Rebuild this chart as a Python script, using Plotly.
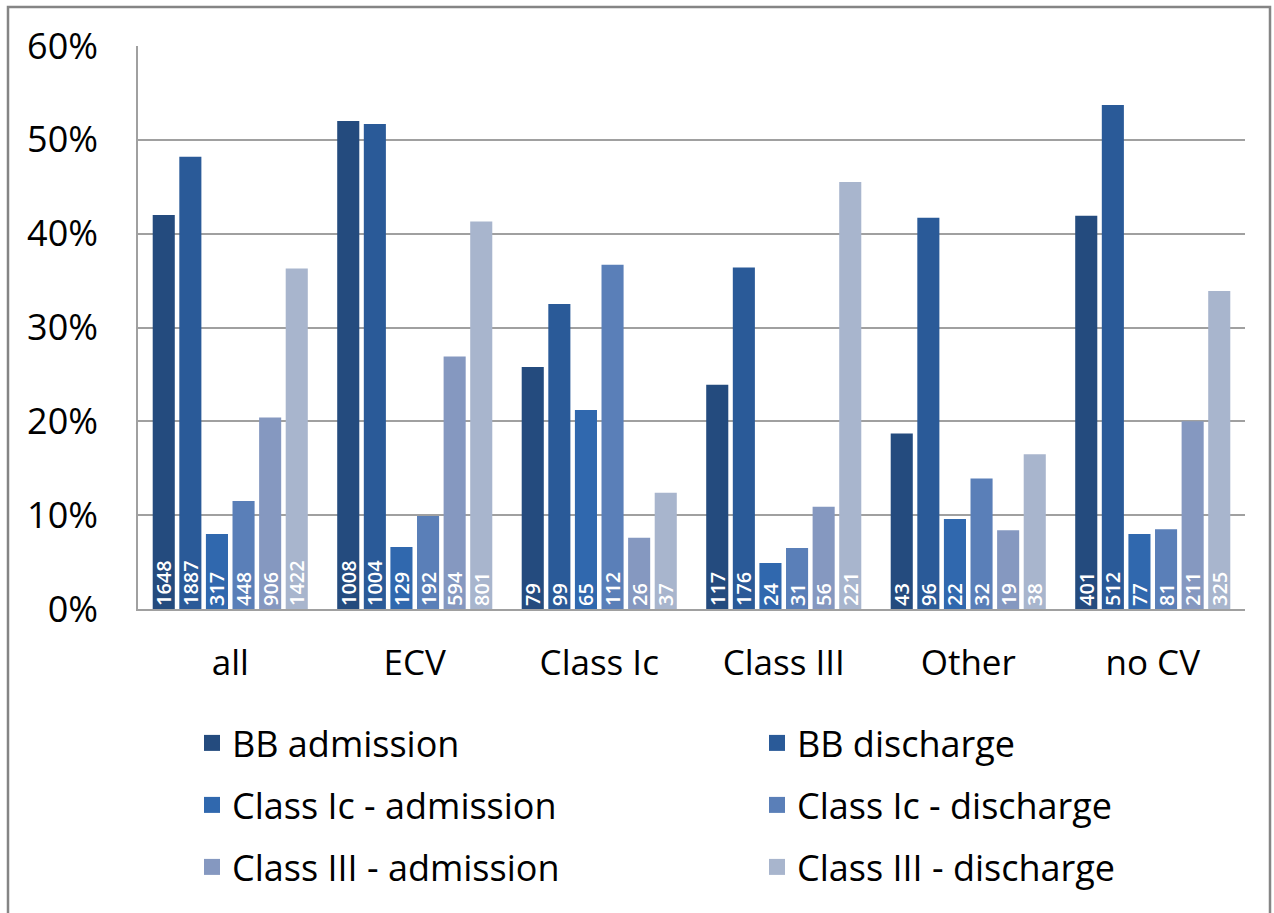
import plotly.graph_objects as go

categories = ["all", "ECV", "Class Ic", "Class III", "Other", "no CV"]
series_names = ["BB admission", "BB discharge", "Class Ic - admission",
                "Class Ic - discharge", "Class III - admission", "Class III - discharge"]

bb_adm = [42.0, 52.0, 25.8, 23.9, 18.7, 41.9]
bb_dis = [48.2, 51.7, 32.5, 36.4, 41.7, 53.7]
ic_adm = [8.0, 6.6, 21.2, 4.9, 9.6, 8.0]
ic_dis = [11.5, 9.9, 36.7, 6.5, 13.9, 8.5]
iii_adm = [20.4, 26.9, 7.6, 10.9, 8.4, 20.0]
iii_dis = [36.3, 41.3, 12.4, 45.5, 16.5, 33.9]

n_bb_adm = [1648, 1008, 79, 117, 43, 401]
n_bb_dis = [1887, 1004, 99, 176, 96, 512]
n_ic_adm = [317, 129, 65, 24, 22, 77]
n_ic_dis = [448, 192, 112, 31, 32, 81]
n_iii_adm = [906, 594, 26, 56, 19, 211]
n_iii_dis = [1422, 801, 37, 221, 38, 325]

y_ticks = [0, 10, 20, 30, 40, 50, 60]
y_tick_labels = ["0%", "10%", "20%", "30%", "40%", "50%", "60%"]

values = [bb_adm, bb_dis, ic_adm, ic_dis, iii_adm, iii_dis]
counts = [n_bb_adm, n_bb_dis, n_ic_adm, n_ic_dis, n_iii_adm, n_iii_dis]
colors = ["#244B7E", "#2A5A98", "#3068AE", "#5A7FB8", "#8598C0", "#A8B5CD"]
legend_ids = ["legend", "legend2", "legend3", "legend4", "legend5", "legend6"]

FONT = "Open Sans, Lato, sans-serif"

fig = go.Figure()
for name, vals, cnt, col in zip(series_names, values, counts, colors):
    fig.add_trace(go.Bar(
        x=categories, y=vals, name=name, showlegend=False,
        marker=dict(color=col, line=dict(width=0)),
        text=[str(c) for c in cnt], textposition="inside",
        insidetextanchor="start", textangle=-90,
        textfont=dict(color="white", size=20, family=FONT, weight=600),
        cliponaxis=False,
    ))

for name, col, lg in zip(series_names, colors, legend_ids):
    fig.add_trace(go.Scatter(
        x=[None], y=[None], mode="markers", name=name, legend=lg,
        marker=dict(symbol="square", size=16, color=col),
        showlegend=True,
    ))

L, R, T, B = 138, 29, 46, 304
W, H = 1274, 913
pw, ph = W - L - R, H - T - B

def py(ypix):
    return (H - B - ypix) / ph

def px(xpix):
    return (xpix - L) / pw

legend_common = dict(
    orientation="h", xanchor="left", yanchor="middle",
    font=dict(family=FONT, size=36, color="black"),
    bgcolor="rgba(0,0,0,0)", itemclick=False, itemdoubleclick=False,
)

col_x = [192, 757]
row_y = [743, 805, 867]
legend_layout = {}
for i, lg in enumerate(legend_ids):
    legend_layout[lg] = dict(x=px(col_x[i % 2]), y=py(row_y[i // 2]), **legend_common)

fig.update_layout(
    width=W, height=H,
    margin=dict(l=L, r=R, t=T, b=B),
    paper_bgcolor="white", plot_bgcolor="white",
    barmode="group", bargap=0.135, bargroupgap=0.17,
    font=dict(family=FONT, color="black"),
    uniformtext=dict(minsize=20, mode="show"),
    xaxis=dict(
        type="category", showgrid=False, showline=True,
        linecolor="#a0a0a0", linewidth=1.5, ticks="",
        tickfont=dict(family=FONT, size=35, color="black"),
        ticklabelstandoff=22,
    ),
    yaxis=dict(
        range=[0, 60], tickvals=y_ticks, ticktext=y_tick_labels,
        showgrid=True, gridcolor="#a0a0a0", gridwidth=1.5,
        showline=True, linecolor="#a0a0a0", linewidth=1.5,
        ticks="", zeroline=False,
        tickfont=dict(family=FONT, size=36, color="black"),
        ticklabelstandoff=31,
    ),
    shapes=[dict(
        type="rect", xref="paper", yref="paper",
        x0=px(8), x1=px(1270), y0=py(7), y1=py(930),
        line=dict(color="#858585", width=2.5), fillcolor="rgba(0,0,0,0)",
        layer="below",
    )],
    **legend_layout,
)

fig.write_html("out.html")
